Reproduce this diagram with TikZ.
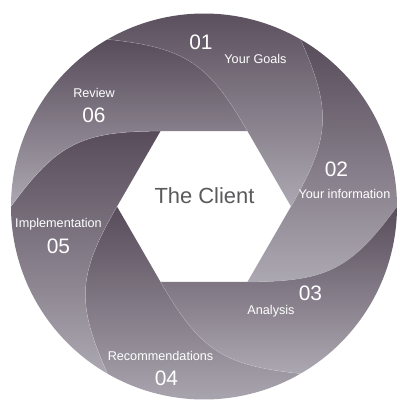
\documentclass[tikz,border=0pt]{standalone}
\usepackage{fontspec}
\setmainfont{Liberation Sans}
\definecolor{bdark}{RGB}{88,76,90}
\definecolor{blight}{RGB}{172,168,178}
\definecolor{ctext}{RGB}{90,90,92}
\begin{document}
\begin{tikzpicture}[x=1bp,y=1bp,
  blade/.style={top color=bdark,bottom color=blight,draw=none},
  bladeedge/.style={draw=white,draw opacity=0.22,line width=0.5bp},
  num/.style={text=white,font=\fontsize{21}{21}\selectfont,anchor=base,inner sep=0},
  lab/.style={text=white,font=\fontsize{12.7}{13}\selectfont,anchor=base,inner sep=0},
  center/.style={text=ctext,font=\fontsize{22}{22}\selectfont,anchor=base,inner sep=0}]
\useasboundingbox (-204,-194.5) rectangle (196,206.5);
\fill[white] (-204,-194.5) rectangle (196,206.5);
\foreach \t in {60,0,-60,-120,180,120}{
  \pgfmathsetmacro\ta{\t+60}
  \pgfmathsetmacro\tb{\t-66}
  \pgfmathsetmacro\tc{\t-126}
  \pgfmathsetmacro\td{\t-60}
  \shade[blade] (\t:87) to[out=\ta,in=\tb,looseness=1.2] (\ta:193)
     arc[start angle=\ta,end angle=\t,radius=193]
     to[out=\tc,in=\t,looseness=1.2] (\td:87) -- cycle;
}
\foreach \t in {60,0,-60,-120,180,120}{
  \pgfmathsetmacro\ta{\t+60}
  \pgfmathsetmacro\tb{\t-66}
  \draw[bladeedge] (\t:87) to[out=\ta,in=\tb,looseness=1.2] (\ta:193);
}
\node[num] (n1) at (-3,157) {01};
\node[lab] (l1) at (51.5,143.5) {Your Goals};
\node[num] (n2) at (132.5,30.5) {02};
\node[lab] (l2) at (140.5,8.5) {Your information};
\node[num] (n3) at (106.5,-93.5) {03};
\node[lab] (l3) at (67,-107.5) {Analysis};
\node[lab] (l4) at (-43.5,-154) {Recommendations};
\node[num] (n4) at (-37.5,-178.5) {04};
\node[lab] (l5) at (-145.5,-21) {Implementation};
\node[num] (n5) at (-145.5,-46.5) {05};
\node[lab] (l6) at (-110,109.5) {Review};
\node[num] (n6) at (-110,84.5) {06};
\node[center] (c) at (0.5,3.5) {The Client};
\end{tikzpicture}
\end{document}
